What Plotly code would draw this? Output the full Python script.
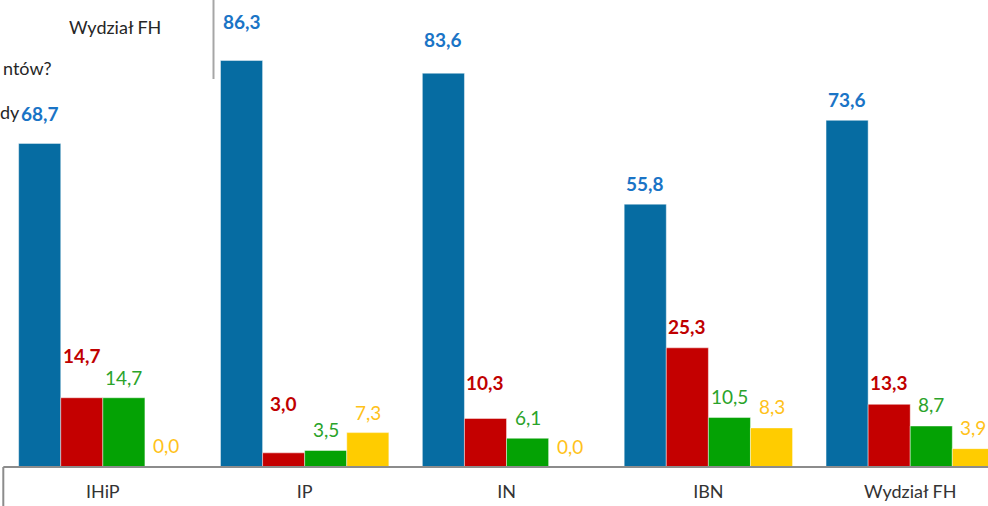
import plotly.graph_objects as go

categories = ["IHiP", "IP", "IN", "IBN", "Wydział FH"]
series_names = ["Seria 1", "Seria 2", "Seria 3", "Seria 4"]
values_s1 = [68.7, 86.3, 83.6, 55.8, 73.6]
values_s2 = [14.7, 3.0, 10.3, 25.3, 13.3]
values_s3 = [14.7, 3.5, 6.1, 10.5, 8.7]
values_s4 = [0.0, 7.3, 0.0, 8.3, 3.9]

# styling
bar_colors = ["#066ca2", "#c40000", "#04a204", "#ffcc00"]
label_colors = ["#1a74c6", "#c00000", "#2aa32a", "#ffc21a"]
label_bold = [True, True, False, False]
# label offsets (pixels above bar top), as placed in the original
label_shift = [
    [30, 39, 34, 21, 21],
    [42, 49, 36, 21, 22],
    [20, 21, 21, 21, 22],
    [22, 20, 21, 21, 21],
]

W, H = 988, 506
MB = 39
BARGAP = 0.166
PX_PER_CAT = 201.85
X0 = -0.5 - 1.9 / PX_PER_CAT
X1 = X0 + W / PX_PER_CAT
YMAX = 99.15

all_series = [values_s1, values_s2, values_s3, values_s4]
xs = list(range(len(categories)))

fig = go.Figure()
for i, (name, vals) in enumerate(zip(series_names, all_series)):
    fig.add_trace(go.Bar(
        x=xs, y=vals, name=name,
        marker=dict(color=bar_colors[i], line=dict(color="rgba(255,255,255,0.55)", width=0.8)),
        hoverinfo="y",
    ))

bw = (1 - BARGAP) / 4
annotations = []
for i, vals in enumerate(all_series):
    for j, v in enumerate(vals):
        txt = f"{v:.1f}".replace(".", ",")
        if label_bold[i]:
            txt = f"<b>{txt}</b>"
        annotations.append(dict(
            x=j + (i - 1.5) * bw, y=v, xref="x", yref="y",
            text=txt, showarrow=False, yanchor="middle", xanchor="center",
            yshift=label_shift[i][j],
            font=dict(family="Lato", size=19, color=label_colors[i]),
        ))

# fragments of an overlapping text block at top-left
ph = H - MB
def py(p):
    return 1 - p / ph

annotations += [
    dict(x=115 / W, y=py(27), xref="paper", yref="paper", text="Wydział FH",
         showarrow=False, xanchor="center", yanchor="middle",
         font=dict(family="Lato", size=18, color="#262626")),
    dict(x=54 / W, y=py(68), xref="paper", yref="paper", text="ntów?",
         showarrow=False, xanchor="right", yanchor="middle",
         font=dict(family="Lato", size=18, color="#262626")),
    dict(x=0, y=py(112), xref="paper", yref="paper", text="dy",
         showarrow=False, xanchor="left", yanchor="middle", xshift=-2,
         font=dict(family="Lato", size=18, color="#262626")),
]

shapes = [
    # baseline + left divider
    dict(type="line", xref="paper", yref="paper", x0=3.3 / W, x1=1, y0=0, y1=0,
         line=dict(color="#8c8c8c", width=2)),
    dict(type="line", xref="paper", yref="paper", x0=3.3 / W, x1=3.3 / W, y0=0, y1=-MB / ph,
         line=dict(color="#8c8c8c", width=2)),
    # vertical line at top
    dict(type="line", xref="paper", yref="paper", x0=213.5 / W, x1=213.5 / W, y0=1, y1=py(79),
         line=dict(color="#a6a6a6", width=2)),
]

fig.update_layout(
    width=W, height=H,
    margin=dict(l=0, r=0, t=0, b=MB),
    paper_bgcolor="white", plot_bgcolor="white",
    barmode="group", bargap=BARGAP, bargroupgap=0,
    showlegend=False,
    annotations=annotations, shapes=shapes,
    font=dict(family="Lato", color="#404040"),
    xaxis=dict(
        range=[X0, X1], tickmode="array", tickvals=xs, ticktext=categories,
        showgrid=False, zeroline=False, showline=False, ticks="",
        tickfont=dict(family="Lato", size=18, color="#333333"),
        ticklabelstandoff=12,
    ),
    yaxis=dict(range=[0, YMAX], visible=False, showgrid=False, zeroline=False),
)

fig.write_html(
    "out.html",
    config={"displayModeBar": False},
    post_script="document.body.style.margin='0';document.body.style.overflow='hidden';",
)
